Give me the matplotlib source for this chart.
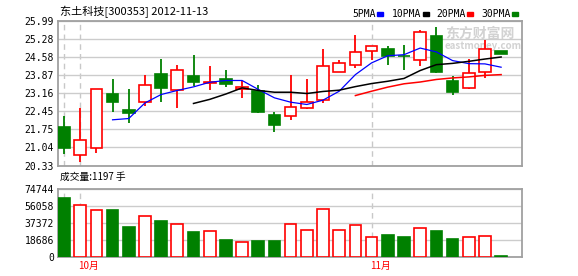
import numpy as np
import matplotlib
matplotlib.use("Agg")
import matplotlib.pyplot as plt
from matplotlib.patches import Rectangle

plt.rcParams['font.family'] = ['Noto Sans CJK SC', 'DejaVu Sans']

# daily prices
opens = [21.83, 20.73, 21.03, 23.13, 22.50, 22.81, 23.90, 23.29, 23.83, 23.56,
         23.70, 23.33, 23.24, 22.29, 22.25, 22.59, 22.88, 23.99, 24.28, 24.83,
         24.88, 24.62, 24.46, 25.39, 23.63, 23.38, 24.01, 24.80]
closes = [21.03, 21.33, 23.31, 22.82, 22.39, 23.50, 23.37, 24.09, 23.60, 23.62,
          23.53, 23.42, 22.43, 21.90, 22.63, 22.80, 24.24, 24.36, 24.79, 25.03,
          24.62, 24.60, 25.57, 23.99, 23.21, 23.95, 24.91, 24.70]
highs = [22.26, 22.59, 23.31, 23.70, 23.31, 23.89, 24.52, 24.26, 24.67, 24.22,
         24.06, 23.63, 23.47, 22.42, 23.86, 23.73, 24.91, 24.48, 25.43, 25.03,
         25.00, 25.06, 25.62, 25.74, 23.85, 24.52, 25.26, 24.80]
lows = [20.79, 20.48, 20.83, 22.43, 22.00, 22.65, 22.82, 22.59, 23.44, 23.28,
        23.41, 22.98, 22.39, 21.65, 22.12, 22.56, 22.76, 23.99, 24.15, 24.45,
        24.28, 24.09, 24.23, 23.95, 23.08, 23.31, 23.74, 24.70]
volumes = [65170, 57150, 51650, 52000, 33300, 45050, 39900, 36250, 27800, 28550,
           19000, 16500, 17900, 17900, 36250, 29650, 52750, 29650, 35150, 22000,
           24500, 22300, 31850, 28900, 20100, 22000, 23050, 1197]

nan = np.nan
ma5 = [nan, nan, nan, 22.12, 22.17, 22.78, 23.11, 23.27, 23.41, 23.59,
       23.66, 23.66, 23.31, 22.98, 22.81, 22.72, 22.89, 23.24, 23.89, 24.35,
       24.63, 24.67, 24.93, 24.78, 24.44, 24.32, 24.31, 24.18]
ma10 = [nan] * 8 + [22.76, 22.92, 23.13, 23.37, 23.27, 23.20, 23.20, 23.15,
                    23.23, 23.28, 23.42, 23.54, 23.63, 23.74, 24.05, 24.28,
                    24.33, 24.41, 24.50, 24.58]
ma20 = [nan] * 18 + [23.07, 23.24, 23.40, 23.53, 23.60, 23.70, 23.76, 23.80,
                     23.86, 23.89]

price_ticks = [20.33, 21.04, 21.75, 22.45, 23.16, 23.87, 24.58, 25.28, 25.99]
vol_ticks = [0, 18686, 37372, 56058, 74744]
month_labels = {1: "10月", 19: "11月"}

RED = "#ff0000"
GREEN = "#008000"
W, H = 578, 276

x = np.arange(len(opens))
up = np.array(closes) >= np.array(opens)
face = ["white" if u else GREEN for u in up]
edge = [RED if u else GREEN for u in up]

fig = plt.figure(figsize=(W / 100, H / 100), dpi=100)
ax = fig.add_axes([58 / W, 1 - 165.5 / H, 464 / W, 144.5 / H])
ax2 = fig.add_axes([58 / W, 1 - 257.3 / H, 464 / W, 68 / H])

for a in (ax, ax2):
    for s in a.spines.values():
        s.set_color("#a0a0a0")
        s.set_linewidth(1.3)
    a.tick_params(length=0, labelsize=7, pad=3)
    a.set_xlim(-0.37, 28.29)
    a.set_xticks([])
    a.grid(axis="y", color="#cccccc", lw=1)
    a.set_axisbelow(True)
    for i in [0] + list(month_labels):
        a.axvline(i, color="#c8c8c8", lw=1, ls=(0, (4, 3)), zorder=0)

# watermark sits behind the candles
ax.text(445 / W, 1 - 34 / H, "东方财富网", fontsize=10, color="#d2d2d2",
        weight="bold", va="center", transform=fig.transFigure, zorder=1)
ax.text(445 / W, 1 - 46 / H, "eastmoney.com", fontsize=7, color="#d2d2d2",
        weight="bold", va="center", transform=fig.transFigure, zorder=1)

# candles
ax.vlines(x, lows, highs, colors=edge, lw=1.3, zorder=2)
bottoms = np.minimum(opens, closes)
heights = np.maximum(np.abs(np.array(closes) - np.array(opens)), 0.03)
ax.bar(x, heights, bottom=bottoms, width=0.72, color=face, edgecolor=edge,
       lw=1.2, zorder=3)

# moving averages
ax.plot(x, ma5, color="#0000ff", lw=0.9, zorder=4)
ax.plot(x, ma10, color="black", lw=1.1, zorder=4)
ax.plot(x, ma20, color=RED, lw=1.1, zorder=4)

ax.set_ylim(20.33, 25.99)
ax.set_yticks(price_ticks)
ax.set_yticklabels(["%.2f" % t for t in price_ticks], family="DejaVu Sans Mono")

# volume bars
ax2.bar(x, volumes, width=0.72, color=face, edgecolor=edge, lw=1.2, zorder=3)
ax2.set_ylim(0, 74744)
ax2.set_yticks(vol_ticks)
ax2.set_yticklabels([str(t) for t in vol_ticks], family="DejaVu Sans Mono")

for i, lab in month_labels.items():
    ax2.annotate(lab, (i, 0), xytext=(-2, -4), textcoords="offset pixels",
                 ha="left", va="top", color=RED, fontsize=7,
                 annotation_clip=False)

# title and legend
fig.text(60 / W, 1 - 15 / H, "东土科技[300353] 2012-11-13", fontsize=8,
         va="baseline")
fig.text(60 / W, 1 - 177 / H, "成交量:1197 手", fontsize=7, va="center")

legend = [("5PMA", "#0000ff", 352), ("10PMA", "black", 392),
          ("20PMA", RED, 436), ("30PMA", GREEN, 481)]
for name, col, lx in legend:
    fig.text(lx / W, 1 - 14 / H, name, fontsize=7, va="center",
             family="DejaVu Sans Mono")
    sx = lx + 6 * len(name) + 1
    fig.add_artist(Rectangle((sx / W, 1 - 15.5 / H), 6 / W, 4 / H,
                             transform=fig.transFigure, color=col))

fig.savefig("out.png", dpi=100)
